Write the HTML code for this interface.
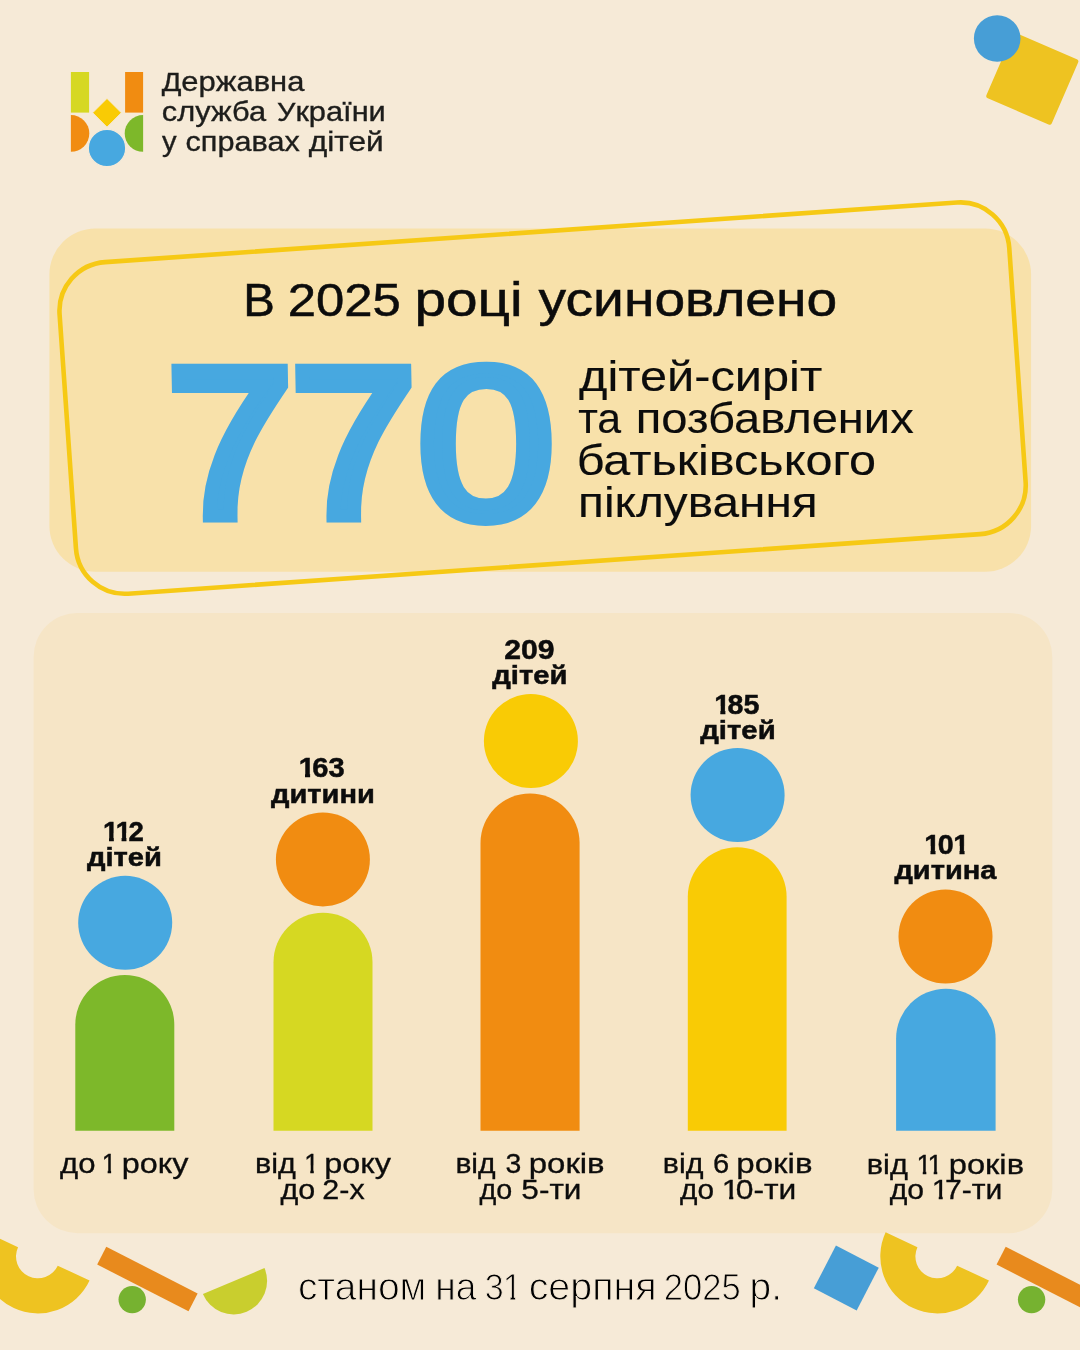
<!DOCTYPE html>
<html lang="uk">
<head>
<meta charset="utf-8">
<title>В 2025 році усиновлено 770 дітей</title>
<style>
html,body{margin:0;padding:0}
html{background:#f6ead7}
body{width:1080px;height:1350px;position:relative;overflow:hidden;background:#f6ead7;font-family:"Liberation Sans",sans-serif;color:#0c0c0c}
.art{position:absolute;left:0;top:0;width:1080px;height:1350px;display:block}
p{margin:0;padding:0}
.t{position:absolute;left:0;top:0;display:block;white-space:nowrap;line-height:1;transform-origin:0 0}
.o,.ob,.g{display:inline-block}
.g{transform-origin:0 0}
.o{clip-path:polygon(0 0,100% 0,100% .55em,.36em .55em,.36em 1em,.23em 1em,.23em .55em,0 .55em);margin:0 -.12em 0 -.03em}
.ob{clip-path:polygon(0 0,100% 0,100% .55em,.39em .55em,.39em 1em,.215em 1em,.215em .55em,0 .55em);margin:0 -.09em 0 -.01em}
</style>
</head>
<body>
<svg class="art" viewBox="0 0 1080 1350" width="1080" height="1350" aria-hidden="true">
<rect x="49.4" y="228.6" width="981.7" height="343.2" rx="46" fill="#f8e1aa"/>
<rect x="33.6" y="612.9" width="1018.7" height="620.3" rx="44" fill="#f6e5c6"/>
<rect x="-476" y="-166.2" width="952" height="332.4" rx="49" fill="none" stroke="#f6c915" stroke-width="4.6" transform="translate(542.6 398.1) rotate(-4)"/>
<rect x="-35.6" y="-35.6" width="71.2" height="71.2" rx="2.5" fill="#eec321" transform="translate(1032.3 78.7) rotate(23.4)"/>
<circle cx="997.2" cy="38.5" r="23.3" fill="#479ed6"/>
<rect x="70.9" y="72" width="18.2" height="40.6" fill="#d6d822"/>
<rect x="125.1" y="72" width="18" height="40.6" fill="#f18c11"/>
<path d="M107 98.4 L121.4 112.8 L107 127.2 L92.6 112.8 Z" fill="#f9cb05" stroke="#f6ead7" stroke-width="1"/>
<path d="M70.9 115 A18.4 18.4 0 0 1 70.9 151.8 Z" fill="#f18c11"/>
<path d="M143.1 115 A18.4 18.4 0 0 0 143.1 151.8 Z" fill="#7db82a"/>
<circle cx="107" cy="148" r="18.7" fill="#47a8e0" stroke="#f6ead7" stroke-width="1.2"/>
<path d="M75.3 1130.8 V1024.5 A49.5 49.5 0 0 1 174.3 1024.5 V1130.8 Z" fill="#7db82a"/>
<circle cx="125.2" cy="922.8" r="47" fill="#47a8e0"/>
<path d="M273.5 1130.8 V962.3 A49.5 49.5 0 0 1 372.5 962.3 V1130.8 Z" fill="#d6d822"/>
<circle cx="322.9" cy="859.4" r="47" fill="#f18c11"/>
<path d="M480.5 1130.8 V842.95 A49.55 49.55 0 0 1 579.6 842.95 V1130.8 Z" fill="#f18c11"/>
<circle cx="530.9" cy="741.1" r="47" fill="#f9cb05"/>
<path d="M687.8 1130.8 V896.7 A49.4 49.4 0 0 1 786.6 896.7 V1130.8 Z" fill="#f9cb05"/>
<circle cx="737.6" cy="795" r="47" fill="#47a8e0"/>
<path d="M896.1 1130.8 V1038.55 A49.75 49.75 0 0 1 995.6 1038.55 V1130.8 Z" fill="#47a8e0"/>
<circle cx="945.5" cy="936.5" r="47" fill="#f18c11"/>
<path d="M57 0 A57 57 0 0 1 -57 0 L-21.9 0 A21.9 21.9 0 0 0 21.9 0 Z" fill="#eec321" transform="translate(37.9 1256.4) rotate(25)"/>
<rect x="-51.3" y="-10" width="102.6" height="20" fill="#e88a1d" transform="translate(147.4 1279) rotate(27.1)"/>
<circle cx="132.2" cy="1299.6" r="13.7" fill="#76b230"/>
<path d="M57 0 A57 57 0 0 1 -57 0 L-21.9 0 A21.9 21.9 0 0 0 21.9 0 Z" fill="#eec321" transform="translate(937.3 1256.4) rotate(25)"/>
<rect x="-51.3" y="-10" width="102.6" height="20" fill="#e88a1d" transform="translate(1046.8 1279) rotate(27.1)"/>
<circle cx="1031.6" cy="1299.6" r="13.7" fill="#76b230"/>
<path d="M-33.4 0 A33.4 33.4 0 0 0 33.4 0 Z" fill="#c9ce2e" transform="translate(233.7 1281) rotate(-22.8)"/>
<rect x="-24.1" y="-24.1" width="48.2" height="48.2" fill="#479ed6" transform="translate(846.3 1278) rotate(27.3)"/>
</svg>
<header class="brand">
<p class="logo"><span class="t" style="font-size:27.8px;color:#1d1d1b;-webkit-text-stroke:0.35px #1d1d1b;transform:translate(161.68px,67.93px) scaleX(1.1125)"><span style="font-size:0.939em">Д</span>ержавна</span></p>
<p class="logo"><span class="t" style="font-size:27.8px;color:#1d1d1b;-webkit-text-stroke:0.35px #1d1d1b;transform:translate(161.86px,97.57px) scaleX(1.1088)">служба</span> <span class="t" style="font-size:27.8px;color:#1d1d1b;-webkit-text-stroke:0.35px #1d1d1b;transform:translate(277.03px,97.93px) scaleX(1.1071)"><span style="font-size:0.939em">У</span>країни</span></p>
<p class="logo"><span class="t" style="font-size:27.8px;color:#1d1d1b;-webkit-text-stroke:0.35px #1d1d1b;transform:translate(162.1px,127.73px) scaleX(1.051)">у</span> <span class="t" style="font-size:27.8px;color:#1d1d1b;-webkit-text-stroke:0.35px #1d1d1b;transform:translate(185.51px,127.73px) scaleX(1.1016)">справах</span> <span class="t" style="font-size:27.8px;color:#1d1d1b;-webkit-text-stroke:0.35px #1d1d1b;transform:translate(308.78px,128.17px) scaleX(1.139)">дітей</span></p>
</header>
<section class="hero">
<p class="title"><span class="t" style="font-size:46.95px;-webkit-text-stroke:0.5px #0c0c0c;transform:translate(243.35px,277.05px) scaleX(1.0085)">В</span> <span class="t" style="font-size:46.95px;-webkit-text-stroke:0.5px #0c0c0c;transform:translate(287.67px,277.05px) scaleX(1.0833)">2025</span> <span class="t" style="font-size:48.99px;-webkit-text-stroke:0.5px #0c0c0c;transform:translate(414.4px,275px) scaleX(1.1592)">році</span> <span class="t" style="font-size:48.99px;-webkit-text-stroke:0.5px #0c0c0c;transform:translate(538.54px,275px) scaleX(1.1266)">усиновлено</span></p>
<p class="big"><span class="t" style="font-size:200px;color:#47a8e0;"><span class="g" style="-webkit-text-stroke:12.5px #47a8e0;transform:translate(166.52px,337.15px) scale(1.1238,1.0581) skewX(1deg)">7</span><span class="g" style="-webkit-text-stroke:12.5px #47a8e0;transform:translate(179.09px,337.51px) scale(1.1208,1.0578) skewX(1deg)">7</span><span class="g" style="-webkit-text-stroke:11px #47a8e0;transform:translate(195.48px,335.2px) scale(1.2329,1.0789)">0</span></span></p>
<p class="sub"><span class="t" style="font-size:43.36px;-webkit-text-stroke:0.15px #0c0c0c;transform:translate(579px,354.92px) scaleX(1.1229)">дітей-сиріт</span></p>
<p class="sub"><span class="t" style="font-size:43.36px;-webkit-text-stroke:0.15px #0c0c0c;transform:translate(578.19px,397.32px) scaleX(0.9877)">та</span> <span class="t" style="font-size:43.36px;-webkit-text-stroke:0.15px #0c0c0c;transform:translate(635.82px,396.94px) scaleX(1.0867)">позбавлених</span></p>
<p class="sub"><span class="t" style="font-size:43.36px;-webkit-text-stroke:0.15px #0c0c0c;transform:translate(576.63px,439.12px) scaleX(1.1199)">батьківського</span></p>
<p class="sub"><span class="t" style="font-size:43.36px;-webkit-text-stroke:0.15px #0c0c0c;transform:translate(578.06px,480.92px) scaleX(1.1015)">піклування</span></p>
</section>
<section class="chart">
<p class="num"><span class="t" style="font-size:27.91px;font-weight:700;-webkit-text-stroke:0.5px #0c0c0c;transform:translate(103.31px,817.69px) scaleX(0.9886)"><span class="ob">1</span><span class="ob">1</span>2</span></p>
<p class="unit"><span class="t" style="font-size:26.38px;font-weight:700;-webkit-text-stroke:0.5px #0c0c0c;transform:translate(86.97px,844.02px) scaleX(1.1054)">дітей</span></p>
<p class="num"><span class="t" style="font-size:27.91px;font-weight:700;-webkit-text-stroke:0.5px #0c0c0c;transform:translate(299.04px,754.49px) scaleX(1.0418)"><span class="ob">1</span>63</span></p>
<p class="unit"><span class="t" style="font-size:26.38px;font-weight:700;-webkit-text-stroke:0.5px #0c0c0c;transform:translate(271.07px,780.82px) scaleX(1.1016)">дитини</span></p>
<p class="num"><span class="t" style="font-size:27.91px;font-weight:700;-webkit-text-stroke:0.5px #0c0c0c;transform:translate(504.24px,636.29px) scaleX(1.0819)">209</span></p>
<p class="unit"><span class="t" style="font-size:26.38px;font-weight:700;-webkit-text-stroke:0.5px #0c0c0c;transform:translate(492.28px,662.22px) scaleX(1.1092)">дітей</span></p>
<p class="num"><span class="t" style="font-size:27.91px;font-weight:700;-webkit-text-stroke:0.5px #0c0c0c;transform:translate(714.47px,690.59px) scaleX(1.0255)"><span class="ob">1</span>85</span></p>
<p class="unit"><span class="t" style="font-size:26.38px;font-weight:700;-webkit-text-stroke:0.5px #0c0c0c;transform:translate(700.2px,717.32px) scaleX(1.1124)">дітей</span></p>
<p class="num"><span class="t" style="font-size:27.91px;font-weight:700;-webkit-text-stroke:0.5px #0c0c0c;transform:translate(924.61px,830.69px) scaleX(1.0261)"><span class="ob">1</span>0<span class="ob">1</span></span></p>
<p class="unit"><span class="t" style="font-size:26.38px;font-weight:700;-webkit-text-stroke:0.5px #0c0c0c;transform:translate(894.4px,857.12px) scaleX(1.1007)">дитина</span></p>
<p class="age"><span class="t" style="font-size:27.13px;-webkit-text-stroke:0.3px #0c0c0c;transform:translate(60.03px,1150.36px) scaleX(1.1469)">до</span> <span class="t" style="font-size:27.18px;-webkit-text-stroke:0.3px #0c0c0c;transform:translate(102.45px,1150.32px) scaleX(0.9641)"><span class="o">1</span></span> <span class="t" style="font-size:27.13px;-webkit-text-stroke:0.3px #0c0c0c;transform:translate(121.73px,1150.36px) scaleX(1.1932)">року</span></p>
<p class="age"><span class="t" style="font-size:27.13px;-webkit-text-stroke:0.3px #0c0c0c;transform:translate(254.94px,1150.36px) scaleX(1.1283)">від</span> <span class="t" style="font-size:27.18px;-webkit-text-stroke:0.3px #0c0c0c;transform:translate(305.04px,1150.32px) scaleX(0.9703)"><span class="o">1</span></span> <span class="t" style="font-size:27.13px;-webkit-text-stroke:0.3px #0c0c0c;transform:translate(324.2px,1150.36px) scaleX(1.1944)">року</span></p>
<p class="age"><span class="t" style="font-size:27.13px;-webkit-text-stroke:0.3px #0c0c0c;transform:translate(280.41px,1176.06px) scaleX(1.1219)">до</span> <span class="t" style="font-size:27.13px;-webkit-text-stroke:0.3px #0c0c0c;transform:translate(322.32px,1175.76px) scaleX(1.1235)"><span style="font-size:1.002em">2</span>-х</span></p>
<p class="age"><span class="t" style="font-size:27.13px;-webkit-text-stroke:0.3px #0c0c0c;transform:translate(455.38px,1150.36px) scaleX(1.1081)">від</span> <span class="t" style="font-size:27.18px;-webkit-text-stroke:0.3px #0c0c0c;transform:translate(505.42px,1150.32px) scaleX(1.0446)">3</span> <span class="t" style="font-size:27.13px;-webkit-text-stroke:0.3px #0c0c0c;transform:translate(528.72px,1150.36px) scaleX(1.2151)">років</span></p>
<p class="age"><span class="t" style="font-size:27.13px;-webkit-text-stroke:0.3px #0c0c0c;transform:translate(479.41px,1176.06px) scaleX(1.059)">до</span> <span class="t" style="font-size:27.13px;-webkit-text-stroke:0.3px #0c0c0c;transform:translate(521.33px,1176.06px) scaleX(1.1626)"><span style="font-size:1.002em">5</span>-ти</span></p>
<p class="age"><span class="t" style="font-size:27.13px;-webkit-text-stroke:0.3px #0c0c0c;transform:translate(662.78px,1150.36px) scaleX(1.1207)">від</span> <span class="t" style="font-size:27.18px;-webkit-text-stroke:0.3px #0c0c0c;transform:translate(713.03px,1150.32px) scaleX(1.0722)">6</span> <span class="t" style="font-size:27.13px;-webkit-text-stroke:0.3px #0c0c0c;transform:translate(736.35px,1149.76px) scaleX(1.2179)">років</span></p>
<p class="age"><span class="t" style="font-size:27.13px;-webkit-text-stroke:0.3px #0c0c0c;transform:translate(679.99px,1176.06px) scaleX(1.0991)">до</span> <span class="t" style="font-size:27.13px;-webkit-text-stroke:0.3px #0c0c0c;transform:translate(722.76px,1176.06px) scaleX(1.1717)"><span style="font-size:1.002em"><span class="o">1</span>0</span>-ти</span></p>
<p class="age"><span class="t" style="font-size:27.13px;-webkit-text-stroke:0.3px #0c0c0c;transform:translate(866.76px,1150.56px) scaleX(1.1353)">від</span> <span class="t" style="font-size:27.18px;-webkit-text-stroke:0.3px #0c0c0c;transform:translate(917.4px,1150.52px) scaleX(0.9898)"><span class="o">1</span><span class="o">1</span></span> <span class="t" style="font-size:27.13px;-webkit-text-stroke:0.3px #0c0c0c;transform:translate(948.71px,1150.56px) scaleX(1.2051)">років</span></p>
<p class="age"><span class="t" style="font-size:27.13px;-webkit-text-stroke:0.3px #0c0c0c;transform:translate(889.72px,1175.76px) scaleX(1.1114)">до</span> <span class="t" style="font-size:27.13px;-webkit-text-stroke:0.3px #0c0c0c;transform:translate(932.72px,1176.06px) scaleX(1.1096)"><span style="font-size:1.002em"><span class="o">1</span>7</span>-ти</span></p>
</section>
<footer class="note">
<p class="foot"><span class="t" style="font-size:39.47px;color:#000000;-webkit-text-stroke:1px #f6ead7;transform:translate(297.9px,1267.35px) scaleX(0.9866)">станом</span> <span class="t" style="font-size:39.47px;color:#000000;-webkit-text-stroke:1px #f6ead7;transform:translate(435.22px,1267.39px) scaleX(0.941)">на</span> <span class="t" style="font-size:36.48px;color:#000000;-webkit-text-stroke:1px #f6ead7;transform:translate(484.86px,1270.26px) scaleX(0.9354)">3<span class="o">1</span></span> <span class="t" style="font-size:39.47px;color:#000000;-webkit-text-stroke:1px #f6ead7;transform:translate(528.66px,1267.27px) scaleX(0.9986)">серпня</span> <span class="t" style="font-size:36.48px;color:#000000;-webkit-text-stroke:1px #f6ead7;transform:translate(663.81px,1270.3px) scaleX(0.9498)">2025</span> <span class="t" style="font-size:39.47px;color:#000000;-webkit-text-stroke:1px #f6ead7;transform:translate(749.51px,1267.39px) scaleX(0.9875)">р.</span></p>
</footer>
</body>
</html>
